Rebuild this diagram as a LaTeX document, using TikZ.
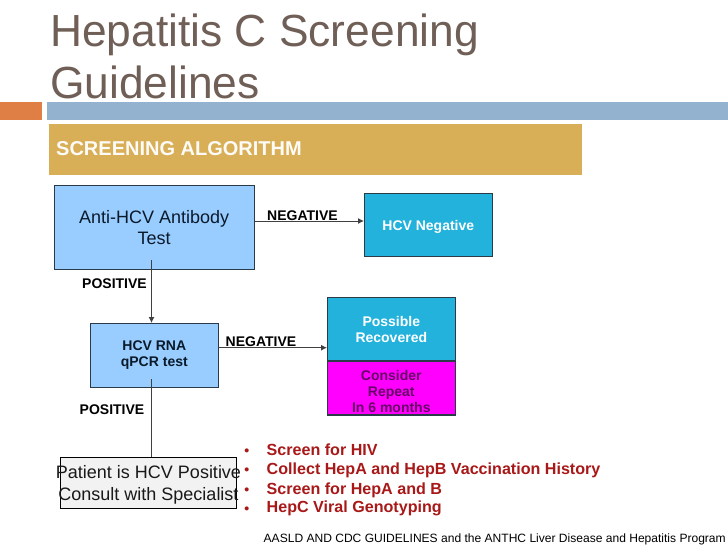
\documentclass[tikz,border=0pt]{standalone}
\usepackage{fontspec}
\setmainfont{Liberation Sans}
\usetikzlibrary{arrows.meta}
\definecolor{titlec}{HTML}{6F5F57}
\definecolor{orangec}{HTML}{E07F45}
\definecolor{bluec}{HTML}{93B2D0}
\definecolor{goldc}{HTML}{D8AE57}
\definecolor{lblue}{HTML}{99CCFF}
\definecolor{cyanc}{HTML}{22B2DC}
\definecolor{magc}{HTML}{FF00FF}
\definecolor{redc}{HTML}{A81818}
\definecolor{patc}{HTML}{F2F2F2}
\definecolor{darkb}{HTML}{0A1A2A}
\definecolor{edgec}{HTML}{2A3A48}
\definecolor{linec}{HTML}{404040}
\tikzset{
  flowbox/.style={draw=edgec,line width=1.1pt,minimum width=#1,inner sep=0pt,align=center,anchor=north west},
  lab/.style={font=\fontsize{14}{14}\selectfont\bfseries,text=black,inner sep=0pt,anchor=base west},
  bul/.style={font=\fontsize{16.1}{16.1}\selectfont\bfseries,text=redc,inner sep=0pt,anchor=base west},
  dot/.style={font=\fontsize{14}{14}\selectfont\bfseries,text=redc,inner sep=0pt,anchor=base},
  conn/.style={draw=linec,line width=1pt},
  arr/.style={conn,-{Latex[length=6pt,width=6pt]}},
  ttl/.style={font=\fontsize{45}{45}\selectfont,text=titlec,inner sep=0pt,anchor=base west,xscale=.985,transform shape},
}
\begin{document}
\begin{tikzpicture}[x=1pt,y=-1pt]
\useasboundingbox (0,0) rectangle (728,546);
\node[ttl] (t1) at (50,46.5) {Hepatitis C Screening};
\node[ttl] (t2) at (50,98.5) {Guidelines};
\fill[orangec] (0,102) rectangle (42,120);
\fill[bluec] (47,102) rectangle (728,120);
\fill[goldc] (48.5,124) rectangle (582,175);
\node[font=\fontsize{20}{20}\selectfont\bfseries,text=white!95!goldc,inner sep=0pt,anchor=base west] (sa) at (56,155.7) {SCREENING ALGORITHM};

\node[flowbox=200pt,fill=lblue,minimum height=83.5pt,text=darkb,font=\fontsize{18}{21}\selectfont] (anti) at (53.5,185) {Anti-HCV Antibody\\Test};
\node[flowbox=127.5pt,fill=cyanc,minimum height=62.5pt,text=white,font=\fontsize{14}{17}\selectfont\bfseries] (neg) at (364,193) {\rule{0pt}{14pt}HCV Negative};
\node[flowbox=127.5pt,fill=lblue,minimum height=63.5pt,text=darkb,font=\fontsize{14}{16}\selectfont\bfseries] (rna) at (90,323) {HCV RNA\\qPCR test};
\node[flowbox=127.5pt,fill=cyanc,minimum height=63pt,text=white,font=\fontsize{14}{16}\selectfont\bfseries] (rec) at (327,297) {Possible\\Recovered};
\node[flowbox=127.5pt,fill=magc,minimum height=54pt,text=black!60!magc,font=\fontsize{14}{16}\selectfont\bfseries] (rep) at (327,360.4) {\rule{0pt}{17pt}Consider\\Repeat\\In 6 months};
\node[draw=black,line width=.9pt,fill=patc,minimum width=176pt,minimum height=50.4pt,inner sep=0pt,anchor=north west] (pat) at (60.4,457.4) {};
\node[align=center,font=\fontsize{18}{22}\selectfont,text=black!90,inner sep=0pt,anchor=center] (pattxt) at (148.5,484.8) {Patient is HCV Positive\\Consult with Specialist};

\coordinate (a1) at (300,221);
\coordinate (b1) at (270,347.7);
\coordinate (c1) at (151.5,260);
\coordinate (d1) at (151,379);
\draw[arr] (a1 -| anti.east) -- (a1 -| neg.west);
\draw[arr] (b1 -| rna.east) -- (b1 -| rec.west);
\draw[arr] (c1) -- (c1 |- rna.north);
\draw[conn] (d1) -- (d1 |- pat.north);

\node[lab] (n1) at (267,220.7) {NEGATIVE};
\node[lab] (n2) at (225.5,346.7) {NEGATIVE};
\node[lab] (p1) at (82,288) {POSITIVE};
\node[lab] (p2) at (79.5,414) {POSITIVE};

\node[dot] (d1t) at (246.7,455) {•};
\node[dot] (d2t) at (246.7,474) {•};
\node[dot] (d3t) at (246.7,494) {•};
\node[dot] (d4t) at (246.7,513) {•};
\node[bul] (s1) at (266.5,455) {Screen for HIV};
\node[bul] (s2) at (266.5,474) {Collect HepA and HepB Vaccination History};
\node[bul] (s3) at (266.5,494) {Screen for HepA and B};
\node[bul] (s4) at (266.5,512.7) {HepC Viral Genotyping};
\node[font=\fontsize{12.05}{12.05}\selectfont,text=black,inner sep=0pt,anchor=base west] (src) at (263.5,542.7) {AASLD AND CDC GUIDELINES and the ANTHC Liver Disease and Hepatitis Program};
\end{tikzpicture}
\end{document}
